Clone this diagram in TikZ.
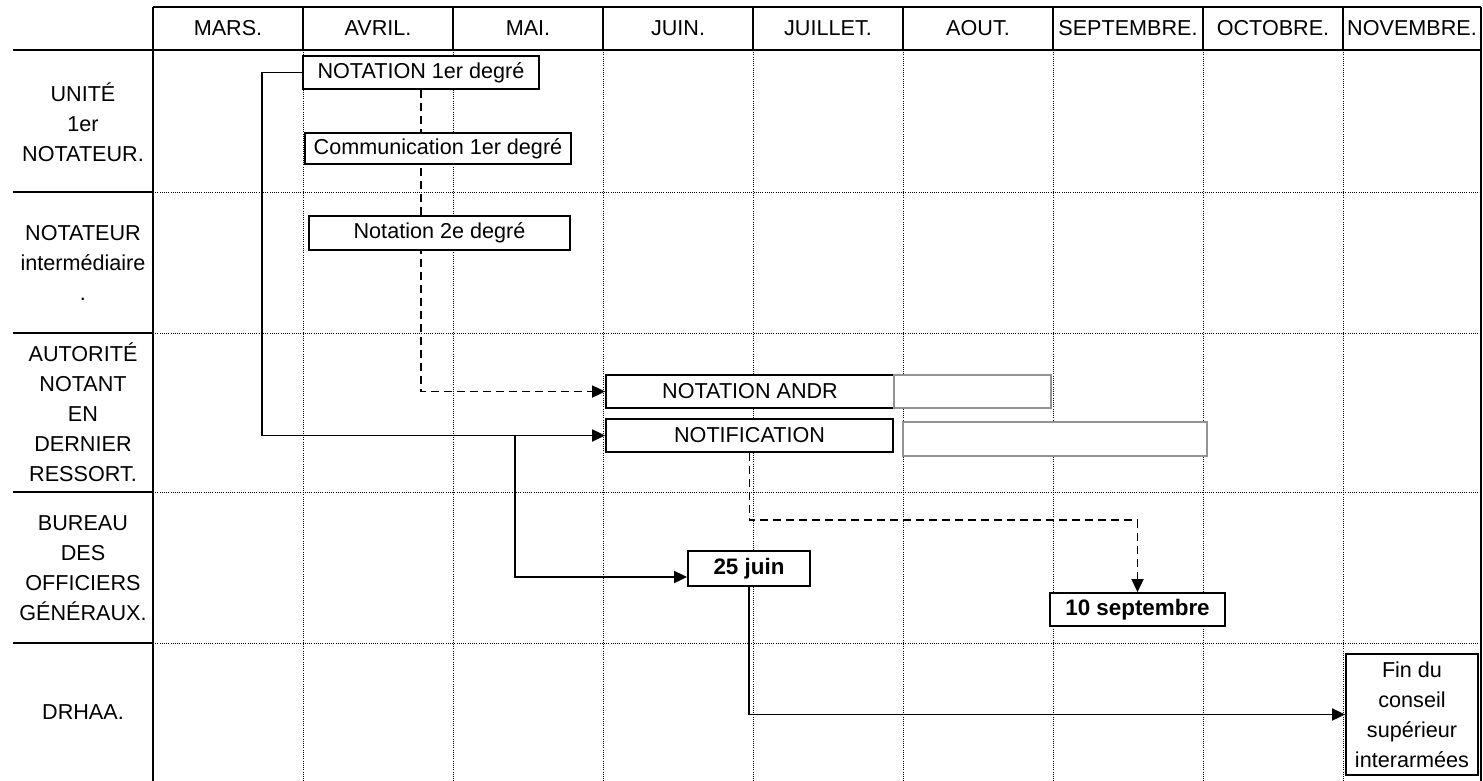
\documentclass[tikz,border=0pt]{standalone}
\usepackage{fontspec}
\setmainfont{Liberation Sans}
\usetikzlibrary{arrows.meta,backgrounds}

\begin{document}
\begin{tikzpicture}[x=0.5pt,y=-0.5pt,
		font=\fontsize{10.8}{15}\selectfont,
		grid/.style={line width=0.5pt,dash pattern=on 0.5pt off 0.6pt},
		rule/.style={line width=0.7pt},
		box/.style={draw,line width=0.9pt,fill=white,inner sep=0pt,anchor=center},
		emptybox/.style={box,draw=gray!85,line width=0.7pt}]
		\useasboundingbox (0,0) rectangle (1483,781);

		% month headers and row titles
		\foreach [count=\i] \m/\x in {MARS./228,AVRIL./378,MAI./528,JUIN./678,JUILLET./828,
		                              AOUT./978,SEPTEMBRE./1128,OCTOBRE./1273,NOVEMBRE./1412}
		    \node (month\i) at (\x,28.5) {\m};
		\begin{scope}[every node/.style={align=center}]
		    \node (unit) at (83,122) {UNITÉ\\1er\\NOTATEUR.};
		    \node (inter) at (83,263) {NOTATEUR\\intermédiaire\\.};
		    \node (auth) at (83,412.5) {AUTORITÉ\\NOTANT\\EN\\DERNIER\\RESSORT.};
		    \node (bog) at (83,568) {BUREAU\\DES\\OFFICIERS\\GÉNÉRAUX.};
		    \node (drhaa) at (83,712) {DRHAA.};
		\end{scope}

		% steps
		\begin{scope}[every node/.style={box}]
		    \node[minimum width=118pt,minimum height=16.5pt] (not1) at (421,72.5) {NOTATION 1er degré};
		    \node[minimum width=133pt,minimum height=15.5pt] (comm1) at (438,148.5) {Communication 1er degré};
		    \node[minimum width=130.5pt,minimum height=17pt] (not2) at (439.5,233) {Notation 2e degré};
		    \node[minimum width=144pt,minimum height=16.5pt] (andr) at (750,391.5) {NOTATION ANDR};
		    \node[emptybox,minimum width=78.5pt,minimum height=16.5pt] (andr-x) at (972.5,391.5) {};
		    \node[minimum width=143.5pt,minimum height=16.5pt] (notif) at (749.5,435.5) {NOTIFICATION};
		    \node[emptybox,minimum width=152pt,minimum height=17pt] (notif-x) at (1055,439) {};
		    \node[font=\fontsize{11.2}{15}\selectfont\bfseries,minimum width=61pt,minimum height=17.5pt] (juin) at (749,568.5) {25 juin};
		    \node[font=\fontsize{11.2}{15}\selectfont\bfseries,minimum width=87.5pt,minimum height=16.5pt] (sept) at (1137.5,609.5) {10 septembre};
		    \node[align=center,minimum width=66pt,minimum height=60.5pt] (fin) at (1412,714.5) {Fin du\\conseil\\supérieur\\interarmées};
		\end{scope}

		\coordinate (bend) at (262,0);
		\coordinate (split) at (515,0);
		\coordinate (drop) at (0,520);

		\begin{scope}[on background layer]
		    % table
		    \draw[rule] (153,7) -- (1481,7);
		    \draw[rule] (13,50) -- (1481,50);
		    \foreach \x in {153,303,453,603,753,903,1053,1203,1343,1481}
		        \draw[rule] (\x,7) -- (\x,50);
		    \draw[rule] (153,50) -- (153,781);
		    \draw[rule] (1481,50) -- (1481,781);
		    \foreach \y in {192,333,492,643} {
		        \draw[rule] (13,\y) -- (153,\y);
		        \draw[grid] (153,\y) -- (1481,\y);
		    }
		    \foreach \x in {303,453,603,753,903,1053,1203,1343}
		        \draw[grid] (\x,50) -- (\x,781);

		    % links
		    \begin{scope}[>={Triangle[length=6.5pt,width=6pt]},line width=0.9pt,
		                  every path/.append style={dash pattern=}]
		        \draw[->] (not1.west) -- (not1.west -| bend) |- (notif.west);
		        \draw[->] (split |- notif.west) |- ([yshift=-4.25pt]juin.west);
		        \draw[->,dash pattern=on 4pt off 2.5pt] (not1.south) |- (andr.west);
		        \draw[->,dash pattern=on 4pt off 2.5pt] (notif.south) -- (notif.south |- drop) -| (sept.north);
		        \draw[->] (juin.south) |- (fin.west);
		    \end{scope}
		\end{scope}
\end{tikzpicture}
\end{document}
